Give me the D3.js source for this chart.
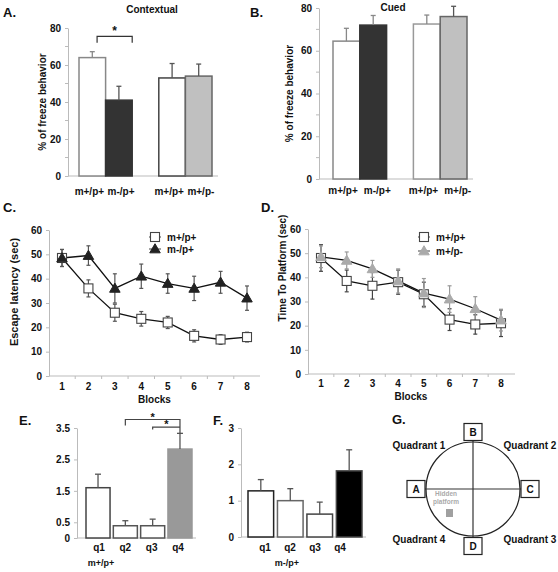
<!DOCTYPE html>
<html><head><meta charset="utf-8">
<script src="https://cdn.jsdelivr.net/npm/d3@7"></script>
<style>body{margin:0;background:#fff} text{font-family:"Liberation Sans",Arial,sans-serif;font-weight:bold;fill:#111}</style>
</head><body><svg id="c" width="558" height="572"></svg>
<script>
// ---------- data ----------
const aCats = ["m+/p+","m-/p+","m+/p+","m+/p-"];
const aVals = [64, 41, 53, 54];
const aErrs = [3.2, 7.5, 7.8, 6.5];
const bCats = ["m+/p+","m-/p+","m+/p+","m+/p-"];
const bVals = [64.5, 72, 72.5, 76];
const bErrs = [6, 4.5, 4.2, 4.8];
const freezeTicks = [0,20,40,60,80];
const blocks = [1,2,3,4,5,6,7,8];
const cWT = [48.5,36,26,23.5,22,16.5,15,16];
const cWTErr = [3.5,3.5,3.5,3,2.5,2.5,2,2];
const cMut = [48.5,49.5,36,41,38,36,38.5,32];
const cMutErr = [3.5,4,6,5,4,5,4.5,5];
const dWT = [48,38.5,36.5,38,33,22.5,20.5,21];
const dWTErr = [5.5,4.5,5.5,5,5,4.5,4,5.5];
const dPat = [48.5,47,43.5,38.5,33.5,31,27,22.3];
const dPatErr = [4.5,3.5,3.5,5,6,5.5,5,4.5];
const latencyTicks = [0,10,20,30,40,50,60];
const quadrants = ["q1","q2","q3","q4"];
const eVals = [1.6,0.39,0.39,2.83];
const eErrs = [0.43,0.16,0.21,0.5];
const eTicks = [0,0.5,1.5,2.5,3.5];
const fVals = [1.27,1.0,0.63,1.82];
const fErrs = [0.31,0.33,0.33,0.58];
const fTicks = [0,1,2,3];
const gQuadLabels = ["Quadrant 1","Quadrant 2","Quadrant 3","Quadrant 4"];
const gStarts = ["A","B","C","D"];

const svg = d3.select("#c");
const AX = "#bbb";

function yAxis(g, scale, x, ticks, minor, fmt) {
  const a = g.append("g").attr("transform", `translate(${x},0)`)
    .call(d3.axisLeft(scale).tickValues(ticks).tickSize(3).tickSizeOuter(0).tickPadding(4).tickFormat(fmt || (d=>d)));
  a.select(".domain").attr("stroke", AX);
  a.selectAll(".tick line").attr("stroke", AX);
  a.selectAll(".tick text").style("font-size","10px").style("font-family","Liberation Sans, Arial").style("font-weight","bold").attr("fill","#111");
  if (minor) a.selectAll(".minor").data(minor).enter().append("line")
    .attr("x1",-3).attr("x2",0).attr("y1",d=>scale(d)).attr("y2",d=>scale(d)).attr("stroke",AX);
  return a;
}
function label(t, x, y, size, anchor) {
  return svg.append("text").attr("x",x).attr("y",y).text(t)
    .style("font-size", size+"px").attr("text-anchor", anchor||"start");
}
function vlabel(t, x, y, size) {
  svg.append("text").attr("transform",`translate(${x},${y}) rotate(-90)`)
    .attr("text-anchor","middle").style("font-size",size+"px").text(t);
}
function errUp(g, cx, y0, y1, color, cap) {
  g.append("line").attr("x1",cx).attr("x2",cx).attr("y1",y0).attr("y2",y1).attr("stroke",color).attr("stroke-width",1.3);
  g.append("line").attr("x1",cx-cap).attr("x2",cx+cap).attr("y1",y1).attr("y2",y1).attr("stroke",color).attr("stroke-width",1.3);
}

// ---------- panel letters ----------
[["A.",3,17],["B.",250,17],["C.",3,212],["D.",261,212],["E.",19,425],["F.",213,425],["G.",392,424]]
  .forEach(([t,x,y]) => label(t,x,y,13));

// ---------- bar panel A / B ----------
function freezePanel(opt) {
  const g = svg.append("g");
  const y = d3.scaleLinear([0,80],[opt.y0,opt.y1]);
  const x = d3.scaleBand([0,1,2,3,4],[opt.x0,opt.x1]);
  const slots = [0,1,3,4];
  g.append("line").attr("x1",opt.axisX).attr("x2",opt.x1+6).attr("y1",y(0)).attr("y2",y(0)).attr("stroke",AX);
  yAxis(g, y, opt.axisX, freezeTicks, [10,30,50,70]);
  opt.vals.forEach((v,i) => {
    const bx = x(slots[i]), bw = x.bandwidth();
    g.append("rect").attr("x",bx).attr("y",y(v)).attr("width",bw).attr("height",y(0)-y(v))
      .attr("fill",opt.fills[i]).attr("stroke",opt.strokes[i]).attr("stroke-width",1.5);
    errUp(g, bx+bw/2, y(v), y(v+opt.errs[i]), opt.errColors[i], 2.5);
  });
  opt.cats.forEach((c,i) => {
    const bx = x(slots[i]), bw = x.bandwidth();
    let tx, anc;
    if (i%2===0) { tx = bx+bw-opt.gapL; anc="end"; } else { tx = bx+opt.gapR; anc="start"; }
    label(c, tx, opt.labelY, 10, anc);
  });
  vlabel("% of freeze behavior", opt.ylabX, (y(0)+y(80))/2, 10);
  return {x,y,g};
}
const A = freezePanel({x0:79,x1:212,y0:176,y1:28,axisX:68,vals:aVals,errs:aErrs,cats:aCats,
  fills:["#fff","#333","#fff","#c0c0c0"],strokes:["#888","#333","#444","#666"],
  errColors:["#888","#555","#555","#555"],labelY:195,gapL:1.5,gapR:2,ylabX:46});
label("Contextual",152,13,10,"middle");
// significance bracket
{
  const bl = A.x(0)+A.x.bandwidth()*0.68, br = A.x(1)+A.x.bandwidth();
  const yb = A.y(75.5), yt = A.y(72);
  A.g.append("path").attr("d",`M${bl},${yt}V${yb}H${br}V${yt}`).attr("fill","none").attr("stroke","#333").attr("stroke-width",1.2);
  label("*",(bl+br)/2,yb-1,12,"middle");
}
const B = freezePanel({x0:333,x1:467,y0:179,y1:8,axisX:319,vals:bVals,errs:bErrs,cats:bCats,
  fills:["#fff","#333","#fff","#c0c0c0"],strokes:["#888","#333","#999","#666"],
  errColors:["#888","#888","#888","#555"],labelY:194,gapL:2,gapR:4,ylabX:293});
label("Cued",393,11,10,"middle");

// ---------- line panels C / D ----------
function linePanel(opt) {
  const g = svg.append("g");
  const y = d3.scaleLinear([0,60],[opt.y0,opt.y1]);
  const x = d3.scaleLinear([1,8],[opt.x0,opt.x1]);
  g.append("line").attr("x1",opt.axisX).attr("x2",opt.xEnd).attr("y1",y(0)).attr("y2",y(0)).attr("stroke",AX);
  g.selectAll(".xt").data(blocks.slice(0,7)).enter().append("line")
    .attr("x1",d=>x(d+0.5)).attr("x2",d=>x(d+0.5)).attr("y1",y(0)).attr("y2",y(0)+3).attr("stroke",AX);
  yAxis(g, y, opt.axisX, latencyTicks, null);
  blocks.forEach(b => label(b, x(b), opt.tickY, 10, "middle"));
  label("Blocks",(opt.x0+opt.x1)/2,opt.blocksY,10,"middle");
  vlabel(opt.ylab, opt.ylabX, opt.ylabY, opt.ylabSize);
  const line = d3.line().x((d,i)=>x(blocks[i])).y(d=>y(d));
  opt.series.forEach(s => {
    s.vals.forEach((v,i) => {
      const cx = x(blocks[i]);
      g.append("line").attr("x1",cx).attr("x2",cx).attr("y1",y(v-s.errs[i])).attr("y2",y(v+s.errs[i])).attr("stroke",s.errColor).attr("stroke-width",1.2);
      [v-s.errs[i], v+s.errs[i]].forEach(e => g.append("line").attr("x1",cx-2).attr("x2",cx+2).attr("y1",y(e)).attr("y2",y(e)).attr("stroke",s.errColor).attr("stroke-width",1.2));
    });
  });
  opt.series.forEach(s => g.append("path").attr("d",line(s.vals)).attr("fill","none").attr("stroke","#111").attr("stroke-width",1.3));
  const tri = d3.symbol().type(d3.symbolTriangle).size(48);
  function marker(gg, s, cx, cy) {
    if (s.shape==="square") gg.append("rect").attr("x",cx-4.5).attr("y",cy-4.5).attr("width",9).attr("height",9).attr("fill","#fff").attr("stroke","#444").attr("stroke-width",1.1);
    else gg.append("path").attr("d",tri).attr("transform",`translate(${cx},${cy+0.8})`).attr("fill",s.fill).attr("stroke",s.stroke).attr("stroke-width",1);
  }
  opt.series.forEach(s => s.vals.forEach((v,i) => marker(g, s, x(blocks[i]), y(v))));
  opt.series.forEach((s,k) => {
    const ly = opt.legY + k*opt.legDy;
    g.append("line").attr("x1",opt.legX-6).attr("x2",opt.legX+6).attr("y1",ly).attr("y2",ly).attr("stroke","#444");
    marker(g, s, opt.legX, ly);
    label(s.name, opt.legX+12, ly+3.5, 10, "start");
  });
}
linePanel({x0:62,x1:247,y0:376,y1:230,axisX:49,xEnd:260,tickY:390,blocksY:403,
  ylab:"Escape latency  (sec)",ylabX:18,ylabY:292,ylabSize:11,legX:155,legY:237,legDy:12,
  series:[{name:"m+/p+",vals:cWT,errs:cWTErr,shape:"square",errColor:"#555"},
          {name:"m-/p+",vals:cMut,errs:cMutErr,shape:"tri",fill:"#222",stroke:"#222",errColor:"#555"}]});
linePanel({x0:321,x1:501,y0:374,y1:229,axisX:308,xEnd:515,tickY:387,blocksY:400,
  ylab:"Time To Platform (sec)",ylabX:286,ylabY:268,ylabSize:10,legX:424,legY:237,legDy:14,
  series:[{name:"m+/p+",vals:dWT,errs:dWTErr,shape:"square",errColor:"#444"},
          {name:"m+/p-",vals:dPat,errs:dPatErr,shape:"tri",fill:"#aaa",stroke:"#aaa",errColor:"#999"}]});

// ---------- probe panels E / F ----------
function probePanel(opt) {
  const g = svg.append("g");
  const y = d3.scaleLinear([0,opt.max],[opt.y0,opt.y1]);
  const x = d3.scaleBand(quadrants,[opt.x0,opt.x1]).paddingInner(opt.pad);
  g.append("line").attr("x1",opt.axisX).attr("x2",opt.x1+4).attr("y1",y(0)).attr("y2",y(0)).attr("stroke",AX);
  yAxis(g, y, opt.axisX, opt.ticks, null);
  quadrants.forEach((q,i) => {
    const v = opt.vals[i];
    g.append("rect").attr("x",x(q)).attr("y",y(v)).attr("width",x.bandwidth()).attr("height",y(0)-y(v))
      .attr("fill",opt.fills[i]).attr("stroke",opt.strokes[i]).attr("stroke-width",1.5);
    errUp(g, x(q)+x.bandwidth()/2, y(v), y(v+opt.errs[i]), "#555", 3);
  });
  const lx = d3.scalePoint(quadrants,[opt.l0,opt.l1]);
  quadrants.forEach(q => label(q, lx(q), 551, 10, "middle"));
  label(opt.geno, opt.genoX, 566, 9, "middle");
  return {x,y,g};
}
const E = probePanel({max:3.5,y0:538,y1:428,x0:86,x1:192,pad:0.12,axisX:77,ticks:eTicks,
  vals:eVals,errs:eErrs,fills:["#fff","#fff","#fff","#999"],strokes:["#444","#555","#555","#999"],
  l0:99,l1:178,geno:"m+/p+",genoX:101});
const F = probePanel({max:3,y0:537,y1:428,x0:248,x1:362,pad:0.13,axisX:241,ticks:fTicks,
  vals:fVals,errs:fErrs,fills:["#fff","#fff","#fff","#000"],strokes:["#222","#666","#444","#444"],
  l0:265,l1:340,geno:"m-/p+",genoX:287});
// E significance brackets
{
  const c = q => E.x(q)+E.x.bandwidth()/2;
  const y1 = E.y(3.77), y2 = E.y(3.53);
  E.g.append("path").attr("d",`M${c("q2")},${y1+6}V${y1}H${c("q4")}V${E.y(3.33)}`).attr("fill","none").attr("stroke","#444").attr("stroke-width",1.2);
  E.g.append("path").attr("d",`M${c("q3")},${y2+2.5}V${y2}H${c("q4")}`).attr("fill","none").attr("stroke","#444").attr("stroke-width",1.2);
  label("*",(c("q2")+c("q4"))/2,y1+1,11,"middle");
  label("*",(c("q3")+c("q4"))/2,y2+1,11,"middle");
}

// ---------- panel G: water maze ----------
{
  const cx = 473, cy = 489, r = 47, off = r + 10, bw = 18, bh = 17;
  const g = svg.append("g");
  g.append("circle").attr("cx",cx).attr("cy",cy).attr("r",r).attr("fill","none").attr("stroke","#222").attr("stroke-width",1.2);
  const pos = {A:[cx-off,cy],B:[cx,cy-off],C:[cx+off,cy],D:[cx,cy+off]};
  g.append("line").attr("x1",pos.A[0]+bw/2).attr("x2",pos.C[0]-bw/2).attr("y1",cy).attr("y2",cy).attr("stroke","#333").attr("stroke-width",1.2);
  g.append("line").attr("x1",cx).attr("x2",cx).attr("y1",pos.B[1]+bh/2).attr("y2",pos.D[1]-bh/2).attr("stroke","#333").attr("stroke-width",1.2);
  gStarts.forEach(s => {
    const [px,py] = pos[s];
    g.append("rect").attr("x",px-bw/2).attr("y",py-bh/2).attr("width",bw).attr("height",bh).attr("fill","#fff").attr("stroke","#222").attr("stroke-width",1.2);
    label(s, px, py+3.5, 10, "middle");
  });
  const qpos = [[-54,-40],[57,-40],[57,54],[-54,54]];
  gQuadLabels.forEach((q,i) => label(q, cx+qpos[i][0], cy+qpos[i][1], 10, "middle"));
  label("Hidden", cx-27, cy+7, 6.5, "middle").style("fill","#aaa");
  label("platform", cx-27, cy+15, 6.5, "middle").style("fill","#aaa");
  g.append("rect").attr("x",cx-27).attr("y",cy+20).attr("width",7).attr("height",8).attr("fill","#a0a0a0");
}
</script></body></html>
